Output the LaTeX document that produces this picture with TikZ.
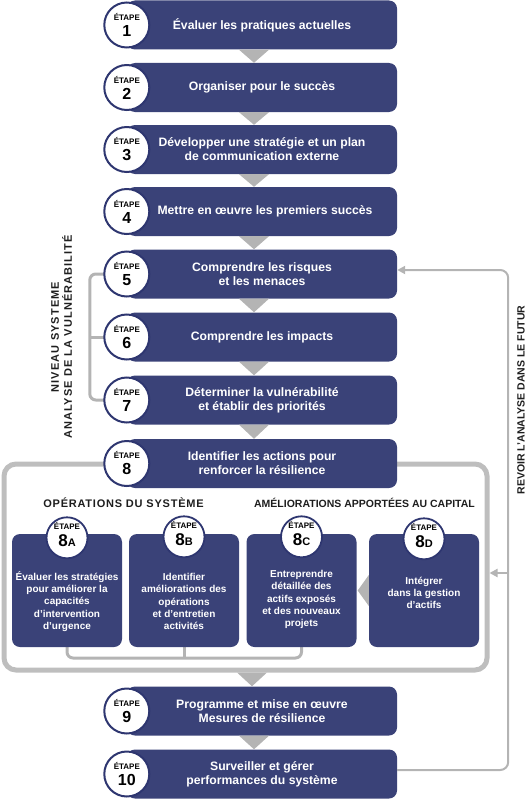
\documentclass[tikz,border=0pt]{standalone}
\usepackage{fontspec}
\setmainfont{Liberation Sans}
\newfontfamily\spacedfont[LetterSpace=7]{Liberation Sans}
\newfontfamily\widefont[LetterSpace=10]{Liberation Sans}
\usetikzlibrary{arrows.meta}

\definecolor{stepblue}{RGB}{58,66,120}
\definecolor{ringblue}{RGB}{46,54,112}
\definecolor{flowgray}{RGB}{180,180,180}
\definecolor{framegray}{RGB}{190,190,190}
\definecolor{inkgray}{RGB}{30,30,30}

\newcommand{\etape}[1]{{\fontsize{8}{8}\selectfont ÉTAPE}\\#1}
\newcommand{\subetape}[2]{{\fontsize{8}{8}\selectfont ÉTAPE}\\#1{\fontsize{11}{11}\selectfont #2}}

\tikzset{
  stepbox/.style={fill=stepblue, rounded corners=8pt, minimum width=270pt,
    minimum height=49pt, inner sep=0pt, text=white, align=center,
    font=\bfseries\fontsize{12.2}{14}\selectfont},
  stepcircle/.style={circle, draw=ringblue, line width=2pt, fill=white,
    minimum size=45pt, inner sep=0pt, align=center,
    font=\bfseries\fontsize{16}{16}\selectfont},
  subbox/.style={fill=stepblue, rounded corners=8pt, minimum width=110pt,
    minimum height=113pt, inner sep=0pt},
  subtext/.style={text=white, align=center, inner sep=0pt,
    font=\bfseries\fontsize{10}{12.2}\selectfont},
  subcircle/.style={circle, draw=ringblue, line width=1.8pt, fill=white,
    minimum size=41pt, inner sep=0pt, align=center, text depth=7pt,
    font=\bfseries\fontsize{17}{17}\selectfont},
  flow/.style={fill=flowgray, draw=none},
  link/.style={draw=flowgray, line width=3pt, rounded corners=6pt},
  loopline/.style={draw=flowgray, line width=2pt, rounded corners=8pt},
  header/.style={text=inkgray, inner sep=0pt},
  sidelabel/.style={text=inkgray, inner sep=0pt, align=center, rotate=90}
}

\begin{document}
\begin{tikzpicture}[x=1pt,y=-1pt]
  \useasboundingbox (0,0) rectangle (531,800);

  % frame round step 8
  \node[draw=framegray, line width=5pt, rounded corners=12pt,
    minimum width=483pt, minimum height=206pt] (frame) at (245.5,567) {};

  % main steps
  \node[stepbox] (b1) at (262,25) {Évaluer les pratiques actuelles};
  \node[stepbox] (b2) at (262,87.5) {Organiser pour le succès};
  \node[stepbox] (b3) at (262,149.5) {Développer une stratégie et un plan\\de communication externe};
  \node[stepbox] (b4) at (262,211.5) {\hspace*{6pt}Mettre en œuvre les premiers succès};
  \node[stepbox] (b5) at (262,274) {Comprendre les risques\\et les menaces};
  \node[stepbox] (b6) at (262,337) {Comprendre les impacts};
  \node[stepbox] (b7) at (262,400) {Déterminer la vulnérabilité\\et établir des priorités};
  \node[stepbox] (b8) at (262,463.5) {Identifier les actions pour\\renforcer la résilience};
  \node[stepbox] (b9) at (262,711) {Programme et mise en œuvre\\Mesures de résilience};
  \node[stepbox] (b10) at (262,774) {Surveiller et gérer\\performances du système};

  % bracket for steps 5 to 7
  \draw[link] (b5.west) -- ++(-37,0) |- (b7.west);
  \draw[link] (b6.west) -- ++(-37,0);

  \node[stepcircle] (c1) at (b1.west) {\etape{1}};
  \node[stepcircle] (c2) at (b2.west) {\etape{2}};
  \node[stepcircle] (c3) at (b3.west) {\etape{3}};
  \node[stepcircle] (c4) at (b4.west) {\etape{4}};
  \node[stepcircle] (c5) at (b5.west) {\etape{5}};
  \node[stepcircle] (c6) at (b6.west) {\etape{6}};
  \node[stepcircle] (c7) at (b7.west) {\etape{7}};
  \node[stepcircle] (c8) at (b8.west) {\etape{8}};
  \node[stepcircle] (c9) at (b9.west) {\etape{9}};
  \node[stepcircle] (c10) at (b10.west) {\etape{10}};

  % flow arrows
  \foreach \a/\b in {b1/b2,b2/b3,b3/b4,b4/b5,b5/b6,b6/b7,b7/b8,b9/b10}
    \fill[flow] ([xshift=-23pt]\a.south) -- ([xshift=7pt]\a.south) -- ([xshift=-8pt]\b.north) -- cycle;
  \fill[flow] ([xshift=-8.5pt]frame.south) -- ([xshift=21.5pt]frame.south) -- ([xshift=-10pt]b9.north) -- cycle;

  % headers
  \node[header, font=\bfseries\fontsize{11}{13}\selectfont] (ops) at (123.5,503) {\spacedfont OPÉRATIONS DU SYSTÈME};
  \node[header, font=\bfseries\fontsize{10.5}{13}\selectfont] (capital) at (364.5,503) {AMÉLIORATIONS APPORTÉES AU CAPITAL};

  % sub steps
  \draw[link] (67,600) -- (67,658) -| (301.5,600);
  \draw[link] (184,600) -- (184,658);
  \node[subbox] (s8a) at (67,590.5) {};
  \node[subbox] (s8b) at (184,590.5) {};
  \node[subbox] (s8c) at (301.5,590.5) {};
  \node[subbox] (s8d) at (424,590.5) {};
  \fill[flow] ([yshift=15.5pt]s8d.west) -- ([yshift=-15.5pt]s8d.west) -- ([xshift=1pt]s8c.east) -- cycle;

  \node[subcircle] (c8a) at ([yshift=-4pt]s8a.north) {\subetape{8}{A}};
  \node[subcircle] (c8b) at ([yshift=-3pt]s8b.north) {\subetape{8}{B}};
  \node[subcircle] (c8c) at ([yshift=-3pt]s8c.north) {\subetape{8}{C}};
  \node[subcircle] (c8d) at ([yshift=-5pt]s8d.north) {\subetape{8}{D}};

  \node[subtext] (t8a) at ([yshift=-11pt]s8a.center) {Évaluer les stratégies\\pour améliorer la\\capacités\\d'intervention\\d'urgence};
  \node[subtext] (t8b) at ([yshift=-11pt]s8b.center) {Identifier\\améliorations des\\opérations\\et d'entretien\\activités};
  \node[subtext] (t8c) at ([yshift=-9pt]s8c.center) {Entreprendre\\détaillée des\\actifs exposés\\et des nouveaux\\projets};
  \node[subtext] (t8d) at ([yshift=-2.5pt]s8d.center) {Intégrer\\dans la gestion\\d'actifs};

  % review loop
  \coordinate (loopin) at (508,573);
  \draw[loopline, -{Triangle[length=8pt,width=8pt]}] ([yshift=4pt]b10.east) -- ++(111,0) |- ([yshift=4pt]b5.east);
  \draw[loopline, -{Triangle[length=8pt,width=8pt]}] (loopin) -- (loopin -| frame.east);

  % side labels
  \node[sidelabel, font=\bfseries\fontsize{11}{13}\selectfont] (level) at (61.5,337) {\widefont NIVEAU SYSTEME\\\widefont ANALYSE DE LA VULNÉRABILITÉ};
  \node[sidelabel, font=\bfseries\fontsize{10.5}{12}\selectfont] (review) at (521,400) {REVOIR L'ANALYSE DANS LE FUTUR};
\end{tikzpicture}
\end{document}
